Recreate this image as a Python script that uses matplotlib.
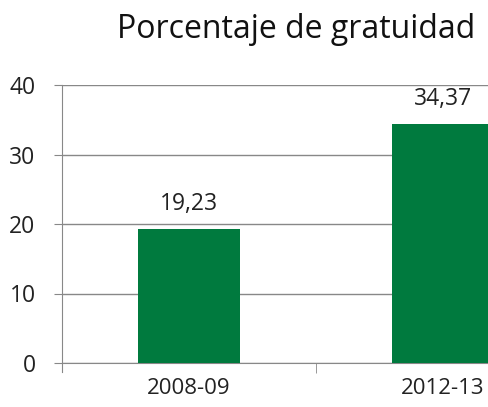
import matplotlib
matplotlib.use("Agg")
import matplotlib.pyplot as plt

categories = ["2008-09", "2012-13"]
values = [19.23, 34.37]
value_labels = ["19,23", "34,37"]
yticks = [0, 10, 20, 30, 40]

plt.rcParams['font.family'] = ['Open Sans', 'DejaVu Sans']

fig = plt.figure(figsize=(4.89, 4.07), dpi=100)
W, H = 489, 407
left, right, top, bottom = 62, 570, 85, 363
ax = fig.add_axes([left / W, 1 - bottom / H, (right - left) / W, (bottom - top) / H])

x = range(len(categories))
ax.bar(x, values, width=0.4, color="#007A3E", zorder=3)
for xi, v, lab in zip(x, values, value_labels):
    ax.annotate(lab, (xi, v), xytext=(0, 14), textcoords="offset points",
                ha="center", va="baseline", fontsize=16.5, color="#222222")

ax.set_xlim(-0.5, 1.5)
ax.set_ylim(0, 40)
ax.set_yticks(yticks)
ax.set_xticks(list(x))
ax.set_xticklabels(categories, fontsize=16, color="#222222")
ax.tick_params(axis="x", length=0, pad=11)
ax.tick_params(axis="y", length=6, color="#888888", labelsize=16.5, labelcolor="#222222", pad=13)
ax.set_xticks([0.5], minor=True)
ax.tick_params(axis="x", which="minor", length=7, color="#888888")
ax.grid(axis="y", color="#888888", linewidth=1, zorder=0)
for s in ["top", "right"]:
    ax.spines[s].set_visible(False)
ax.spines["left"].set_color("#888888")
ax.spines["bottom"].set_color("#888888")
ax.spines["left"].set_bounds(-1.3, 40)

fig.text(296 / W, 1 - 30 / H, "Porcentaje de gratuidad", ha="center", va="center", fontsize=23, color="#111111")

fig.savefig("out.png", dpi=100)
